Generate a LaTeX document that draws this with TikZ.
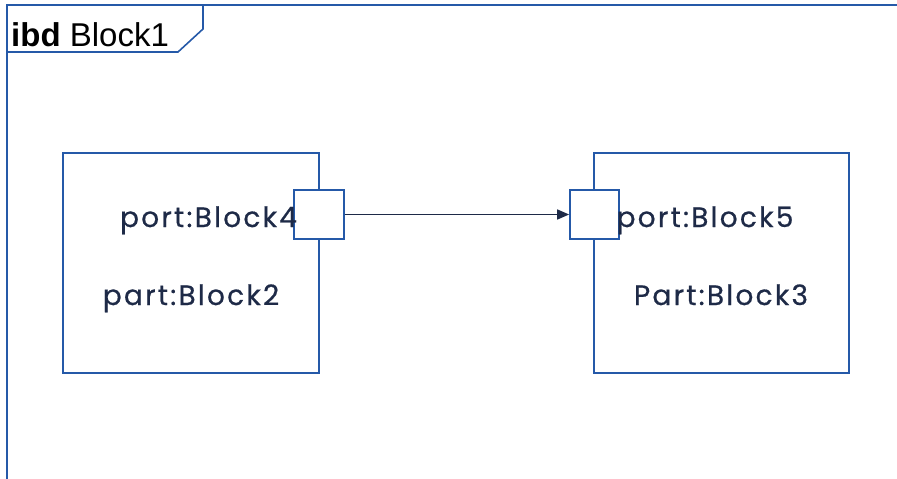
\documentclass[tikz,border=0pt]{standalone}
\usepackage{fontspec}
\setmainfont{Poppins}[LetterSpace=8, FakeBold=0.6]
\newfontfamily\framefont{Liberation Sans}
\usetikzlibrary{arrows.meta}
\definecolor{edgeblue}{HTML}{2559A8}
\definecolor{inkblue}{HTML}{1E2A47}
\tikzset{
  x=1pt, y=-1pt,
  blockbox/.style={draw=edgeblue, line width=1.7pt, fill=none},
  portbox/.style={draw=edgeblue, line width=1.7pt, fill=white, inner sep=0pt},
  lbl/.style={text=inkblue, font=\fontsize{28}{33}\selectfont, anchor=base, inner sep=0pt},
  flow/.style={draw=inkblue, line width=1.6pt, -{Triangle[length=12pt,width=10pt]}}
}
\begin{document}
\begin{tikzpicture}
\useasboundingbox (0,0) rectangle (897,479);
% diagram frame and its name tab
\draw[edgeblue, line width=2pt] (7,479) -- (7,5) -- (897,5);
\draw[edgeblue, line width=1.6pt] (203,5) -- (203,29) -- (178,52) -- (7,52);
\node[anchor=base west, inner sep=0pt, font=\framefont\fontsize{33}{37}\selectfont] (title) at (11,46) {\textbf{ibd} Block1};
% parts
\draw[blockbox] (63,153) rectangle (319,373);
\draw[blockbox] (594,153) rectangle (849,373);
% ports
\node[portbox, minimum width=50pt, minimum height=49pt] (portA) at (319,214.5) {};
\node[portbox, minimum width=49pt, minimum height=49pt] (portB) at (594.5,214.5) {};
% labels
\node[lbl] (p4) at (208.5,227) {port:Block4};
\node[lbl] (b2) at (191,305) {part:Block2};
\node[lbl] (p5) at (705,227) {port:Block5};
\node[lbl] (b3) at (721,305) {Part:Block3};
% flow between ports
\draw[flow] (portA.east) -- (portB.west);
\end{tikzpicture}
\end{document}
